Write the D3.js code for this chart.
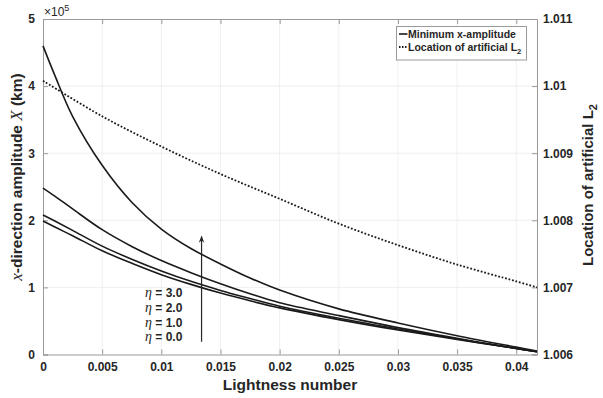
<!DOCTYPE html>
<html>
<head>
<meta charset="utf-8">
<script src="https://cdn.jsdelivr.net/npm/d3@7"></script>
<style>
  html, body { margin: 0; padding: 0; background: #fff; }
  svg { display: block; }
  text { font-family: "Liberation Sans", Arial, sans-serif; fill: #262626; }
</style>
</head>
<body>
<svg id="chart" width="603" height="398"></svg>
<script>
// Lightness number samples shared by every series
const lightness = [0, 0.001, 0.0025, 0.005, 0.0075, 0.01, 0.0125, 0.015, 0.0175, 0.02, 0.025, 0.03, 0.035, 0.04, 0.04175];

// Minimum x-amplitude (units of 1e5 km) for each eta
const eta0 = [1.99, 1.90, 1.77, 1.545, 1.36, 1.19, 1.045, 0.915, 0.80, 0.695, 0.52, 0.365, 0.225, 0.09, 0.04];
const eta1 = [2.08, 1.99, 1.85, 1.615, 1.42, 1.245, 1.09, 0.955, 0.835, 0.72, 0.54, 0.38, 0.23, 0.09, 0.04];
const eta2 = [2.48, 2.36, 2.17, 1.86, 1.61, 1.40, 1.22, 1.055, 0.905, 0.77, 0.58, 0.40, 0.24, 0.09, 0.04];
const eta3 = [4.60, 4.16, 3.55, 2.82, 2.27, 1.87, 1.58, 1.35, 1.14, 0.96, 0.68, 0.47, 0.28, 0.11, 0.05];

// Location of the artificial L2 point (right axis)
const l2Lightness = [0, 0.005, 0.01, 0.015, 0.02, 0.025, 0.03, 0.035, 0.04, 0.04175];
const l2Location  = [1.01008, 1.00955, 1.00910, 1.00869, 1.00832, 1.00795, 1.00763, 1.00734, 1.00709, 1.00700];

// Tick values
const xTicks = [0, 0.005, 0.01, 0.015, 0.02, 0.025, 0.03, 0.035, 0.04];
const xTickLabels = ["0", "0.005", "0.01", "0.015", "0.02", "0.025", "0.03", "0.035", "0.04"];
const yLeftTicks = [0, 1, 2, 3, 4, 5];
const yRightTicks = [1.006, 1.007, 1.008, 1.009, 1.01, 1.011];
const yRightTickLabels = ["1.006", "1.007", "1.008", "1.009", "1.01", "1.011"];

// Curve annotations
const etaLabels = ["3.0", "2.0", "1.0", "0.0"];
const arrowX = 0.0134;
const arrowFrom = 0.19, arrowTo = 1.76;

const svg = d3.select("#chart");
const L = 43, R = 537, T = 19, B = 354.5;

const x = d3.scaleLinear().domain([0, 0.04175]).range([L, R]);
const yL = d3.scaleLinear().domain([0, 5]).range([B, T]);
const yR = d3.scaleLinear().domain([1.006, 1.011]).range([B, T]);

svg.append("rect").attr("width", 603).attr("height", 398).attr("fill", "#fff");

// grid
const grid = svg.append("g").attr("stroke", "#ebebeb").attr("stroke-width", 0.8);
grid.selectAll("line.v").data(xTicks.slice(1)).join("line")
  .attr("x1", d => x(d)).attr("x2", d => x(d)).attr("y1", T).attr("y2", B);
grid.selectAll("line.h").data(yLeftTicks.slice(1, -1)).join("line")
  .attr("x1", L).attr("x2", R).attr("y1", d => yL(d)).attr("y2", d => yL(d));

// axes (box with inward ticks)
const axisColor = "#9a9a9a";
const tickLen = 5;
const gx = svg.append("g").attr("transform", `translate(0,${B})`)
  .call(d3.axisBottom(x).tickValues(xTicks).tickSize(-tickLen).tickPadding(8)
    .tickFormat((d, i) => xTickLabels[i]));
const gxTop = svg.append("g").attr("transform", `translate(0,${T})`)
  .call(d3.axisTop(x).tickValues(xTicks).tickSize(-tickLen).tickFormat(""));
const gy = svg.append("g").attr("transform", `translate(${L},0)`)
  .call(d3.axisLeft(yL).tickValues(yLeftTicks).tickSize(-tickLen).tickPadding(8)
    .tickFormat(d3.format("d")));
const gyR = svg.append("g").attr("transform", `translate(${R},0)`)
  .call(d3.axisRight(yR).tickValues(yRightTicks).tickSize(-tickLen).tickPadding(6)
    .tickFormat((d, i) => yRightTickLabels[i]));

[gx, gxTop, gy, gyR].forEach(g => {
  g.select(".domain").attr("stroke", axisColor).attr("stroke-width", 1);
  g.selectAll(".tick line").attr("stroke", axisColor).attr("stroke-width", 1);
  g.selectAll(".tick text")
    .attr("fill", "#262626")
    .style("font-family", "'Liberation Sans', Arial, sans-serif")
    .style("font-size", "12px")
    .style("font-weight", "bold");
});

// exponent label for the left axis
const expo = svg.append("text").attr("x", 44).attr("y", 16)
  .style("font-size", "12px");
expo.append("tspan").text("×10");
expo.append("tspan").attr("dy", -5).style("font-size", "9px").text("5");

// axis titles
svg.append("text")
  .attr("x", 290).attr("y", 390).attr("text-anchor", "middle")
  .style("font-size", "15.5px").style("font-weight", "bold")
  .text("Lightness number");

const yTitle = svg.append("text")
  .attr("transform", "translate(22,177) rotate(-90)")
  .attr("text-anchor", "middle")
  .style("font-size", "15.5px").style("font-weight", "bold");
yTitle.append("tspan").style("font-family", "'Liberation Serif', 'Times New Roman', serif")
  .style("font-style", "italic").style("font-weight", "normal").style("font-size", "17px").text("x");
yTitle.append("tspan").text("-direction amplitude ");
yTitle.append("tspan").style("font-family", "'Liberation Serif', 'Times New Roman', serif")
  .style("font-style", "italic").style("font-weight", "normal").style("font-size", "17px").text("X");
yTitle.append("tspan").text(" (km)");

const rTitle = svg.append("text")
  .attr("transform", "translate(593,185) rotate(-90)")
  .attr("text-anchor", "middle")
  .style("font-size", "15px").style("font-weight", "bold");
rTitle.append("tspan").text("Location of artificial L");
rTitle.append("tspan").attr("dy", 4).style("font-size", "11px").text("2");

// curves
const lineL = d3.line().curve(d3.curveCatmullRom.alpha(0.5))
  .x((d, i) => x(lightness[i])).y(d => yL(d));
const plot = svg.append("g").attr("fill", "none");
[eta0, eta1, eta2, eta3].forEach(s => {
  plot.append("path").datum(s).attr("d", lineL)
    .attr("stroke", "#1a1a1a").attr("stroke-width", 1.6);
});

const lineR = d3.line().curve(d3.curveCatmullRom.alpha(0.5))
  .x((d, i) => x(l2Lightness[i])).y(d => yR(d));
plot.append("path").datum(l2Location).attr("d", lineR)
  .attr("stroke", "#1a1a1a").attr("stroke-width", 1.8)
  .attr("stroke-dasharray", "1.8,1.8");

// arrow showing increasing eta
svg.append("defs").append("marker")
  .attr("id", "arrowhead").attr("viewBox", "0 0 10 10")
  .attr("refX", 9).attr("refY", 5)
  .attr("markerWidth", 7).attr("markerHeight", 7)
  .attr("markerUnits", "userSpaceOnUse")
  .attr("orient", "auto")
  .append("path").attr("d", "M0,1 L10,5 L0,9 L3,5 Z").attr("fill", "#262626");
svg.append("line")
  .attr("x1", x(arrowX)).attr("x2", x(arrowX))
  .attr("y1", yL(arrowFrom)).attr("y2", yL(arrowTo))
  .attr("stroke", "#262626").attr("stroke-width", 1.2)
  .attr("marker-end", "url(#arrowhead)");

// eta labels
const etaG = svg.append("g");
etaLabels.forEach((v, i) => {
  const t = etaG.append("text").attr("x", 145).attr("y", 297 + i * 14.8)
    .style("font-size", "12px").style("font-weight", "bold");
  t.append("tspan").style("font-family", "'Liberation Serif', 'Times New Roman', serif")
    .style("font-style", "italic").style("font-weight", "normal").style("font-size", "14px").text("η");
  t.append("tspan").text(" = " + v);
});

// legend
const lg = svg.append("g");
lg.append("rect").attr("x", 396.5).attr("y", 26.5).attr("width", 130).attr("height", 33.5)
  .attr("fill", "#fff").attr("stroke", "#9a9a9a").attr("stroke-width", 1);
lg.append("line").attr("x1", 399).attr("x2", 407.5).attr("y1", 34).attr("y2", 34)
  .attr("stroke", "#1a1a1a").attr("stroke-width", 1.6);
lg.append("line").attr("x1", 399).attr("x2", 407.5).attr("y1", 47).attr("y2", 47)
  .attr("stroke", "#1a1a1a").attr("stroke-width", 1.8).attr("stroke-dasharray", "1.5,1.5");
lg.append("text").attr("x", 408).attr("y", 37.8)
  .style("font-size", "10.5px").style("font-weight", "bold").text("Minimum x-amplitude");
const lt = lg.append("text").attr("x", 408).attr("y", 50.8)
  .style("font-size", "10.5px").style("font-weight", "bold");
lt.append("tspan").text("Location of artificial L");
lt.append("tspan").attr("dy", 3).style("font-size", "7.5px").text("2");
</script>
</body>
</html>
